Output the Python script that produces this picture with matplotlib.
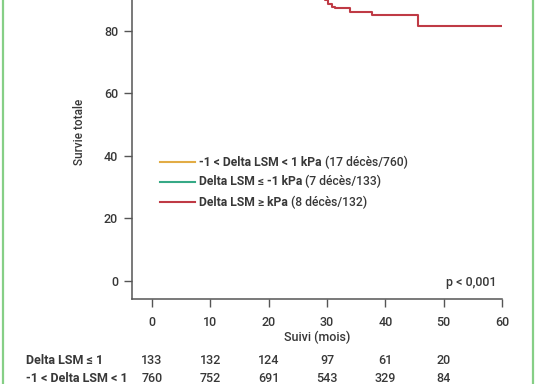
import matplotlib
matplotlib.use("Agg")
import matplotlib.pyplot as plt
from matplotlib.lines import Line2D

plt.rcParams['font.family'] = ['Roboto', 'DejaVu Sans']

# ---- data ----
red_t = [0, 6, 12, 18, 22, 26, 28.5, 29.7, 30.2, 30.9, 31.4, 33.9, 37.7, 45.6, 60]
red_s = [100, 99.2, 97.7, 96.9, 95.4, 93.8, 91.5, 89.9, 88.6, 87.8, 87.2, 86.0, 85.1, 81.7, 81.7]
orange_t = [0, 5, 10, 15, 20, 25, 30, 35, 40, 45, 50, 60]
orange_s = [100, 99.7, 99.4, 99.0, 98.6, 98.2, 97.9, 97.6, 97.3, 97.0, 96.8, 96.8]
green_t = [0, 8, 15, 22, 28, 34, 40, 47, 60]
green_s = [100, 99.2, 98.5, 97.7, 96.9, 96.0, 95.0, 94.0, 94.0]

series_colors = {'orange': '#e2ac45', 'green': '#36a986', 'red': '#bf3a45'}
legend_bold = ['-1 < Delta LSM < 1 kPa', 'Delta LSM \u2264 -1 kPa', 'Delta LSM \u2265 kPa']
legend_norm = [' (17 d\u00e9c\u00e8s/760)', ' (7 d\u00e9c\u00e8s/133)', ' (8 d\u00e9c\u00e8s/132)']

xticks = [0, 10, 20, 30, 40, 50, 60]
yticks = [0, 20, 40, 60, 80]
risk_times = [0, 10, 20, 30, 40, 50]
risk_labels = ['Delta LSM \u2264 1', '-1 < Delta LSM < 1']
risk_row1 = [133, 132, 124, 97, 61, 20]
risk_row2 = [760, 752, 691, 543, 329, 84]

W, H = 538, 384
fig = plt.figure(figsize=(W / 100, H / 100), dpi=100)
fig.patch.set_facecolor('white')

def fx(px):
    return px / W

def fy(py):
    return 1 - py / H

ax = fig.add_axes([fx(132), fy(299.3), fx(502) - fx(132), fy(-31.5) - fy(299.3)])
ax.set_xlim(-3.44, 60)
ax.set_ylim(-6, 100)

text_color = '#383838'
axis_color = '#555555'
num_weight = 500

ax.step(orange_t, orange_s, where='post', color=series_colors['orange'], lw=1.5)
ax.step(green_t, green_s, where='post', color=series_colors['green'], lw=1.5)
ax.step(red_t, red_s, where='post', color=series_colors['red'], lw=1.5)

for s in ['top', 'right']:
    ax.spines[s].set_visible(False)
for s in ['left', 'bottom']:
    ax.spines[s].set_color(axis_color)
    ax.spines[s].set_linewidth(1.1)

ax.set_xticks(xticks)
ax.set_yticks(yticks)
ax.tick_params(axis='both', colors=axis_color, length=6, width=1.0,
               labelsize=9, labelcolor=text_color)
ax.tick_params(axis='x', pad=6)
ax.tick_params(axis='y', pad=4)
for lbl in ax.get_xticklabels() + ax.get_yticklabels():
    lbl.set_fontweight(num_weight)

ax.set_xlabel('Suivi (mois)', fontsize=9, color=text_color, labelpad=1,
              fontweight=num_weight)
ax.set_ylabel('Survie totale', fontsize=8.5, color=text_color,
              fontweight=num_weight)
ax.yaxis.set_label_coords(-(132 - 86) / (502 - 132), 0.506)

# p-value
fig.text(fx(496), fy(282.5), 'p < 0,001', ha='right', va='center',
         fontsize=9, color=text_color, fontweight=num_weight)

# legend (manual, mixed weights)
leg_y = [162.5, 181.5, 202]
leg_cols = [series_colors['orange'], series_colors['green'], series_colors['red']]
renderer = fig.canvas.get_renderer()
for yy, col, tb, tn in zip(leg_y, leg_cols, legend_bold, legend_norm):
    fig.add_artist(Line2D([fx(160), fx(195)], [fy(yy), fy(yy)], color=col, lw=1.5,
                          transform=fig.transFigure))
    t1 = fig.text(fx(199), fy(yy), tb, ha='left', va='center', fontsize=8.7,
                  fontweight='bold', color=text_color)
    bb = t1.get_window_extent(renderer=renderer)
    fig.text(bb.x1 / W, fy(yy), tn, ha='left', va='center', fontsize=8.7,
             color=text_color, fontweight=num_weight)

# risk table
row_y = [361, 379]
for lab, vals, yy in zip(risk_labels, [risk_row1, risk_row2], row_y):
    fig.text(fx(26), fy(yy), lab, ha='left', va='center', fontsize=9,
             fontweight='bold', color=text_color)
    for t, v in zip(risk_times, vals):
        xpix = ax.transData.transform((t, 0))[0]
        fig.text(xpix / W, fy(yy), str(v), ha='center', va='center', fontsize=9,
                 color=text_color, fontweight=num_weight)

# green frame
for xp in [2.5, 533]:
    fig.add_artist(Line2D([fx(xp), fx(xp)], [0, 1], color='#86cf86', lw=1.6,
                          transform=fig.transFigure))

fig.savefig('out.png', dpi=100)
